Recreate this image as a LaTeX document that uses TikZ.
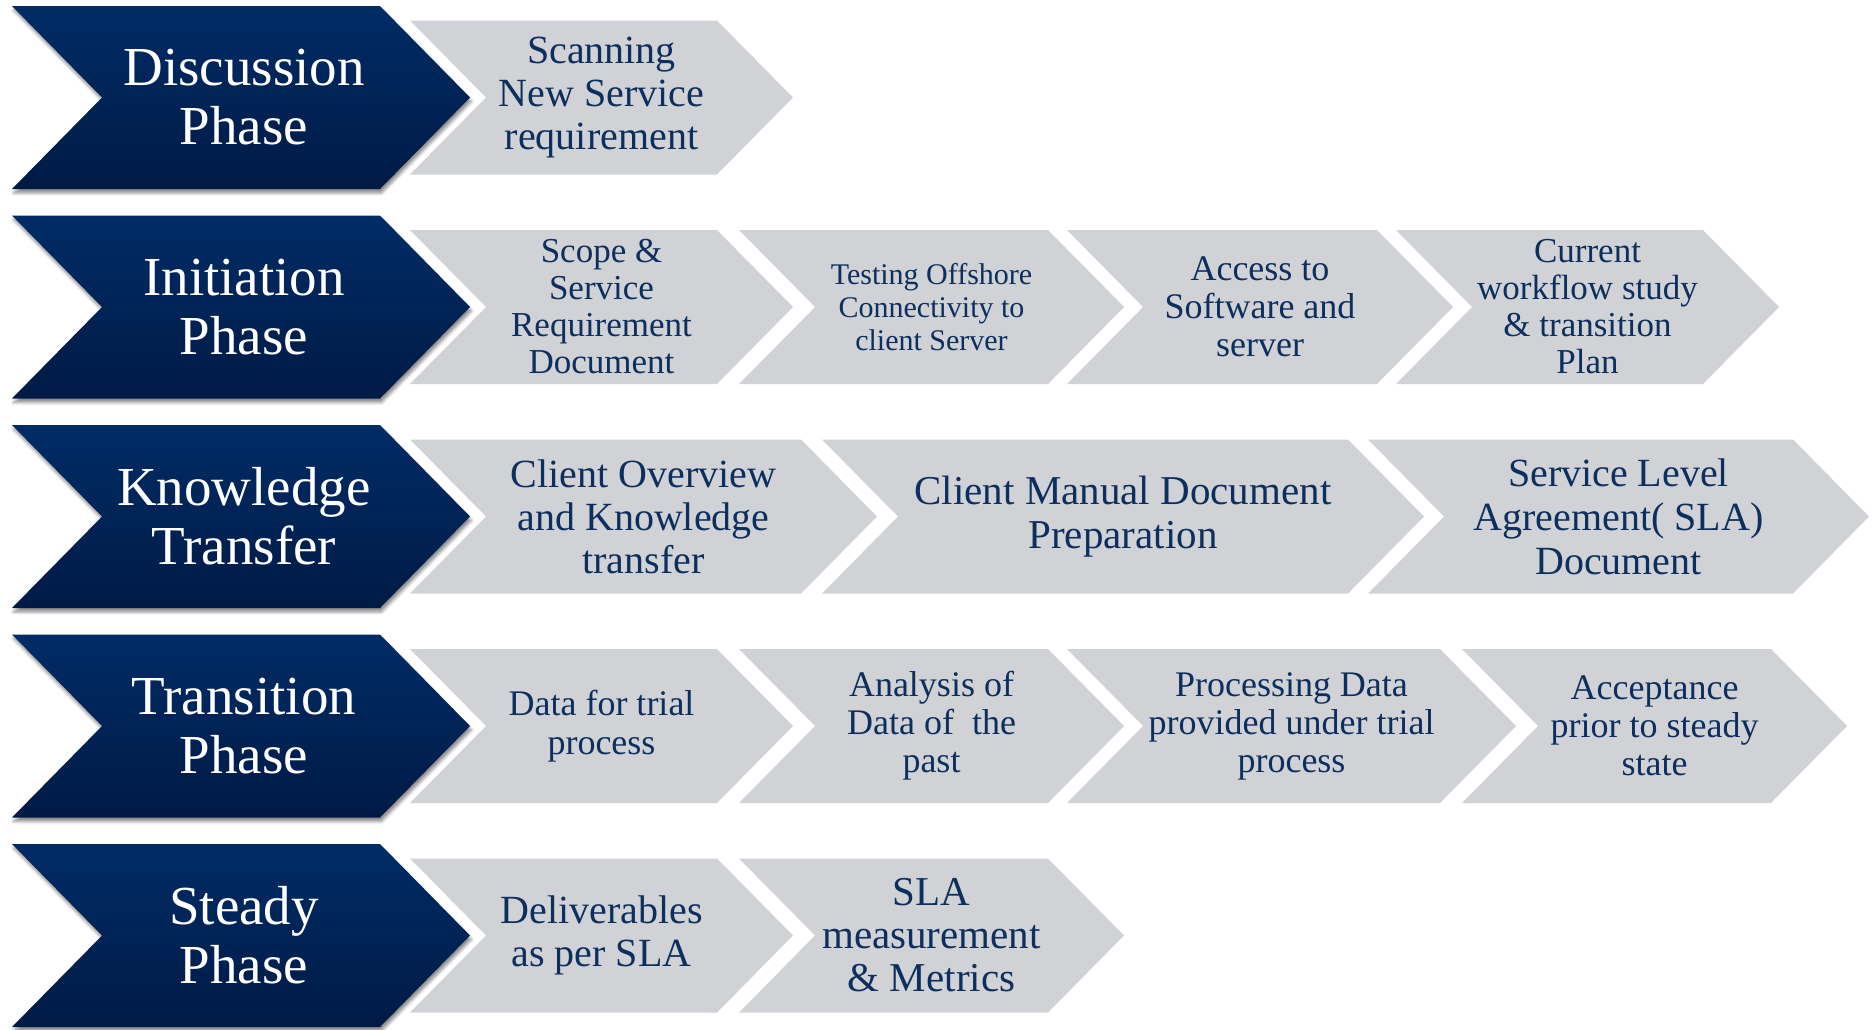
\documentclass[tikz,border=0pt]{standalone}
\usepackage{fontspec}
\setmainfont{Liberation Serif}
\usetikzlibrary{shadows.blur}
\definecolor{navyT}{HTML}{002C66}
\definecolor{navyB}{HTML}{001A45}
\definecolor{chevgray}{HTML}{D0D2D6}
\definecolor{txtnavy}{HTML}{0D2F5E}
\newcommand{\mychev}[6]{%
  \path[#1] (#2,#4-#5) -- (#3,#4-#5) -- (#3+#6,#4) -- (#3,#4+#5) -- (#2,#4+#5) -- (#2+#6,#4) -- cycle;}
\newcommand{\darkchev}[1]{\mychev{phasebox}{12}{380}{#1}{91.5}{90}}
\newcommand{\graychev}[3]{\mychev{stepbox}{#1}{#2}{#3}{77}{76}}
\tikzset{
  phasebox/.style={top color=navyT, bottom color=navyB, draw=none,
    blur shadow={shadow xshift=1.5pt, shadow yshift=-4pt, shadow blur radius=3pt, shadow opacity=45}},
  stepbox/.style={fill=chevgray, draw=none},
  phasetext/.style={text=white, align=center, inner sep=0pt, font=\fontsize{55}{59}\selectfont},
  steptext/.style={text=txtnavy, align=center, inner sep=0pt},
}
\begin{document}
\begin{tikzpicture}[x=1pt,y=-1pt]
\useasboundingbox (0,0) rectangle (1874,1029);
% ---- chevrons
\darkchev{97.5}
\darkchev{307}
\darkchev{516.5}
\darkchev{726}
\darkchev{935.5}
\graychev{410}{717}{97.5}
\graychev{410}{717}{307}
\graychev{739}{1048}{307}
\graychev{1067}{1377}{307}
\graychev{1396}{1703}{307}
\graychev{410}{801}{516.5}
\graychev{822}{1348}{516.5}
\graychev{1368}{1793}{516.5}
\graychev{410}{717}{726}
\graychev{739}{1048}{726}
\graychev{1067}{1440}{726}
\graychev{1462}{1771}{726}
\graychev{410}{717}{935.5}
\graychev{739}{1048}{935.5}
% ---- phase labels
\node[phasetext] (p1) at (244,97.5) {Discussion\\Phase};
\node[phasetext] (p2) at (244,307) {Initiation\\Phase};
\node[phasetext] (p3) at (244,516.5) {Knowledge\\Transfer};
\node[phasetext] (p4) at (244,726) {Transition\\Phase};
\node[phasetext] (p5) at (244,935.5) {Steady\\Phase};
% ---- row 1
\node[steptext, font=\fontsize{40}{43}\selectfont] (s11) at (601.5,97.5) {Scanning\\New Service\\requirement};
% ---- row 2
\node[steptext, font=\fontsize{35}{37}\selectfont] (s21) at (601.5,307) {Scope \&\\Service\\Requirement\\Document};
\node[steptext, font=\fontsize{30}{33}\selectfont] (s22) at (931.5,307) {Testing Offshore\\Connectivity to\\client Server};
\node[steptext, font=\fontsize{36}{38}\selectfont] (s23) at (1260,307) {Access to\\Software and\\server};
\node[steptext, font=\fontsize{35}{37}\selectfont] (s24) at (1587.5,307) {Current\\workflow study\\\& transition\\Plan};
% ---- row 3
\node[steptext, font=\fontsize{40}{43}\selectfont] (s31) at (643.5,516.5) {Client Overview\\and Knowledge\\transfer};
\node[steptext, font=\fontsize{41}{44}\selectfont] (s32) at (1123,516.5) {Client Manual Document\\Preparation};
\node[steptext, font=\fontsize{40}{44}\selectfont] (s33) at (1618.5,516.5) {Service Level\\Agreement( SLA)\\Document};
% ---- row 4
\node[steptext, font=\fontsize{36}{39}\selectfont] (s41) at (601.5,726) {Data for trial\\process};
\node[steptext, font=\fontsize{36}{38}\selectfont] (s42) at (931.5,726) {Analysis of\\Data of\ \ the\\past};
\node[steptext, font=\fontsize{36}{38}\selectfont] (s43) at (1291.5,726) {Processing Data\\provided under trial\\process};
\node[steptext, font=\fontsize{36}{38}\selectfont] (s44) at (1654.5,726) {Acceptance\\prior to steady\\state};
% ---- row 5
\node[steptext, font=\fontsize{40}{43}\selectfont] (s51) at (601.5,935.5) {Deliverables\\as per SLA};
\node[steptext, font=\fontsize{41}{43}\selectfont] (s52) at (931.5,935.5) {SLA\\measurement\\\& Metrics};
\end{tikzpicture}
\end{document}
